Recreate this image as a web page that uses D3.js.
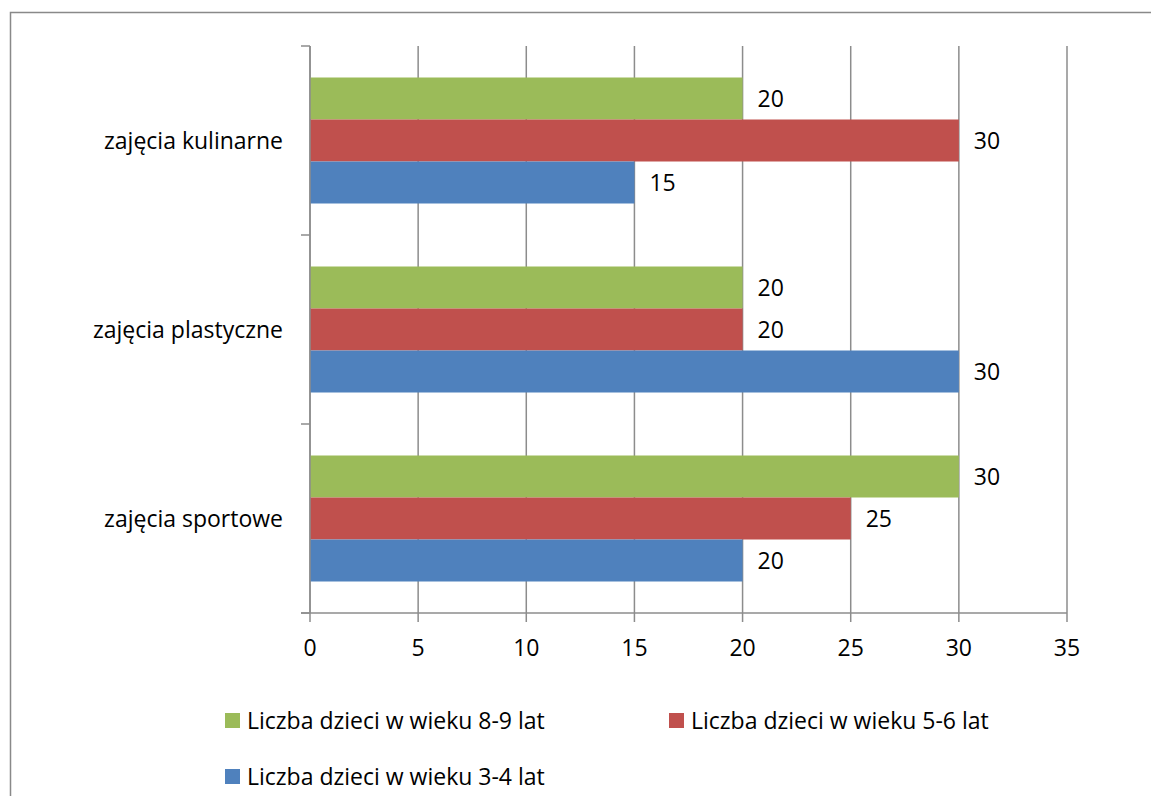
<!DOCTYPE html>
<html><head><meta charset="utf-8">
<script src="https://cdn.jsdelivr.net/npm/d3@7"></script>
<style>body{margin:0;background:#fff;}svg{display:block;}text{font-family:"Open Sans",sans-serif;fill:#000;}</style>
</head><body>
<svg id="c" width="1151" height="796"></svg>
<script>
const categories = ["zajęcia kulinarne", "zajęcia plastyczne", "zajęcia sportowe"];
const seriesNames = ["Liczba dzieci w wieku 8-9 lat", "Liczba dzieci w wieku 5-6 lat", "Liczba dzieci w wieku 3-4 lat"];
const seriesColors = ["#9BBB59", "#C0504D", "#4F81BD"];
const age89 = [20, 20, 30];
const age56 = [30, 20, 25];
const age34 = [15, 30, 20];
const xTicks = [0, 5, 10, 15, 20, 25, 30, 35];
const seriesValues = [age89, age56, age34];

(function () {
const FS = 23;
const svg = d3.select("#c");
svg.append("rect").attr("x", 10.5).attr("y", 12.5).attr("width", 1160).attr("height", 800)
  .attr("fill", "none").attr("stroke", "#898989").attr("stroke-width", 1.5);

const pLeft = 310, pRight = 1067, pTop = 46, pBottom = 613;
const x = d3.scaleLinear().domain([0, 35]).range([pLeft, pRight]);
const y0 = d3.scaleBand().domain(categories).range([pTop, pBottom]).paddingInner(1/3).paddingOuter(1/6);
const y1 = d3.scaleBand().domain(seriesNames).range([0, y0.bandwidth()]);
const yOuter = d3.scaleBand().domain(categories).range([pTop, pBottom]);

svg.append("g").selectAll("line").data(xTicks).join("line")
  .attr("x1", d => x(d)).attr("x2", d => x(d)).attr("y1", pTop).attr("y2", pBottom + 9)
  .attr("stroke", "#8c8c8c").attr("stroke-width", 1.5);

const data = [];
categories.forEach((c, i) => seriesNames.forEach((s, j) => data.push({c, s, v: seriesValues[j][i], color: seriesColors[j]})));
svg.append("g").selectAll("rect").data(data).join("rect")
  .attr("x", x(0)).attr("y", d => y0(d.c) + y1(d.s)).attr("width", d => x(d.v) - x(0))
  .attr("height", y1.bandwidth()).attr("fill", d => d.color);
svg.append("g").selectAll("text").data(data).join("text")
  .attr("x", d => x(d.v) + 15).attr("y", d => y0(d.c) + y1(d.s) + y1.bandwidth() / 2)
  .attr("dy", "0.35em").attr("font-size", FS).text(d => d.v);

const ax = svg.append("g");
ax.append("line").attr("x1", pLeft).attr("x2", pLeft).attr("y1", pTop).attr("y2", pBottom)
  .attr("stroke", "#8c8c8c").attr("stroke-width", 1.5);
const yTickPos = categories.map(c => yOuter(c)).concat([pBottom]);
ax.selectAll("line.t").data(yTickPos).join("line").attr("class", "t")
  .attr("x1", pLeft - 9).attr("x2", pLeft).attr("y1", d => d).attr("y2", d => d)
  .attr("stroke", "#8c8c8c").attr("stroke-width", 1.5);
ax.selectAll("text").data(categories).join("text")
  .attr("x", pLeft - 27).attr("y", d => yOuter(d) + yOuter.bandwidth() / 2)
  .attr("dy", "0.35em").attr("text-anchor", "end").attr("font-size", FS).text(d => d);

svg.append("line").attr("x1", pLeft - 9).attr("x2", pRight).attr("y1", pBottom).attr("y2", pBottom)
  .attr("stroke", "#8c8c8c").attr("stroke-width", 1.5);
svg.append("g").selectAll("text").data(xTicks).join("text")
  .attr("x", d => x(d)).attr("y", 648).attr("dy", "0.35em").attr("text-anchor", "middle")
  .attr("font-size", FS).text(d => d);

const legPos = [[225, 721], [669, 721], [225, 777]];
const lg = svg.append("g").selectAll("g").data(seriesNames).join("g")
  .attr("transform", (d, i) => `translate(${legPos[i][0]},${legPos[i][1]})`);
lg.append("rect").attr("x", 0).attr("y", -8).attr("width", 15).attr("height", 15)
  .attr("fill", (d, i) => seriesColors[i]);
lg.append("text").attr("x", 22).attr("y", 0).attr("dy", "0.35em").attr("font-size", FS).text(d => d);
})();
</script>
</body></html>
